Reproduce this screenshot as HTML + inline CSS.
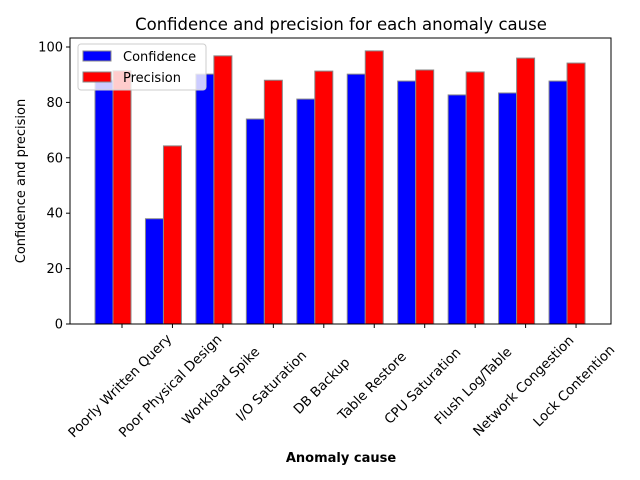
<!DOCTYPE html>
<html><head><meta charset="utf-8"><style>body{margin:0;background:#fff}svg{display:block;font-family:"DejaVu Sans","Liberation Sans",sans-serif}</style></head>
<body>
<svg id="chart" width="640" height="480"></svg>
<script>
const categories=["Poorly Written Query","Poor Physical Design","Workload Spike","I/O Saturation","DB Backup","Table Restore","CPU Saturation","Flush Log/Table","Network Congestion","Lock Contention"];
const confidence=[88,38,90.2,74,81.2,90.2,87.7,82.7,83.4,87.7];
const precision=[91.4,64.3,96.8,88,91.3,98.6,91.7,91,96,94.2];
const yTicks=[0,20,40,60,80,100];
const NS="http://www.w3.org/2000/svg";
const svg=document.getElementById('chart');
const L=70,R=611,T=38,B=324;
const y=v=>324-v*2.77;
const x=i=>122+i*50.45;
const bw=18;
function mk(tag,a,parent){const e=document.createElementNS(NS,tag);for(const k in a)e.setAttribute(k,a[k]);(parent||svg).appendChild(e);return e;}
const title=mk('text',{x:341,y:30,'text-anchor':'middle','font-size':16.5,fill:'#000'});title.textContent="Confidence and precision for each anomaly cause";


categories.forEach((c,i)=>{
 const b1=mk('rect',{x:x(i)-9-bw,y:y(confidence[i]),width:bw,height:B-y(confidence[i]),fill:'#0000ff',stroke:'#888','stroke-width':1});
 
 
 const b2=mk('rect',{x:x(i)-9,y:y(precision[i]),width:bw,height:B-y(precision[i]),fill:'#ff0000',stroke:'#888','stroke-width':1});
 
 
 mk('line',{x1:x(i),x2:x(i),y1:B,y2:B+4,stroke:'#000'});
 const t=mk('text',{transform:`translate(${x(i)+1},${389}) rotate(-45)`,'text-anchor':'middle','font-size':13.4,fill:'#000'});t.textContent=c;
 
 
});
yTicks.forEach(v=>{
 mk('line',{x1:L-4,x2:L,y1:y(v),y2:y(v),stroke:'#000'});
 const t=mk('text',{x:L-7,y:y(v)+4.5,'text-anchor':'end','font-size':13,fill:'#000'});t.textContent=v;
 
 
});
mk('rect',{x:L,y:T,width:R-L,height:B-T,fill:'none',stroke:'#000','stroke-width':1});
const yl=mk('text',{transform:'translate(25,181) rotate(-90)','text-anchor':'middle','font-size':13,fill:'#000'});yl.textContent="Confidence and precision";


const xl=mk('text',{x:341,y:462,'text-anchor':'middle','font-size':13,'font-weight':'bold',fill:'#000'});xl.textContent="Anomaly cause";


const lg=mk('g',{});


mk('rect',{x:78,y:44,width:128,height:46,rx:3,fill:'rgba(255,255,255,0.8)',stroke:'#ccc'},lg);
mk('rect',{x:83,y:51,width:28,height:10,fill:'#0000ff',stroke:'#888'},lg);
mk('rect',{x:83,y:72,width:28,height:10,fill:'#ff0000',stroke:'#888'},lg);
const l1=mk('text',{x:123,y:61,'font-size':13,fill:'#000'},lg);l1.textContent="Confidence";
const l2=mk('text',{x:123,y:82,'font-size':13,fill:'#000'},lg);l2.textContent="Precision";
</script>
</body></html>
